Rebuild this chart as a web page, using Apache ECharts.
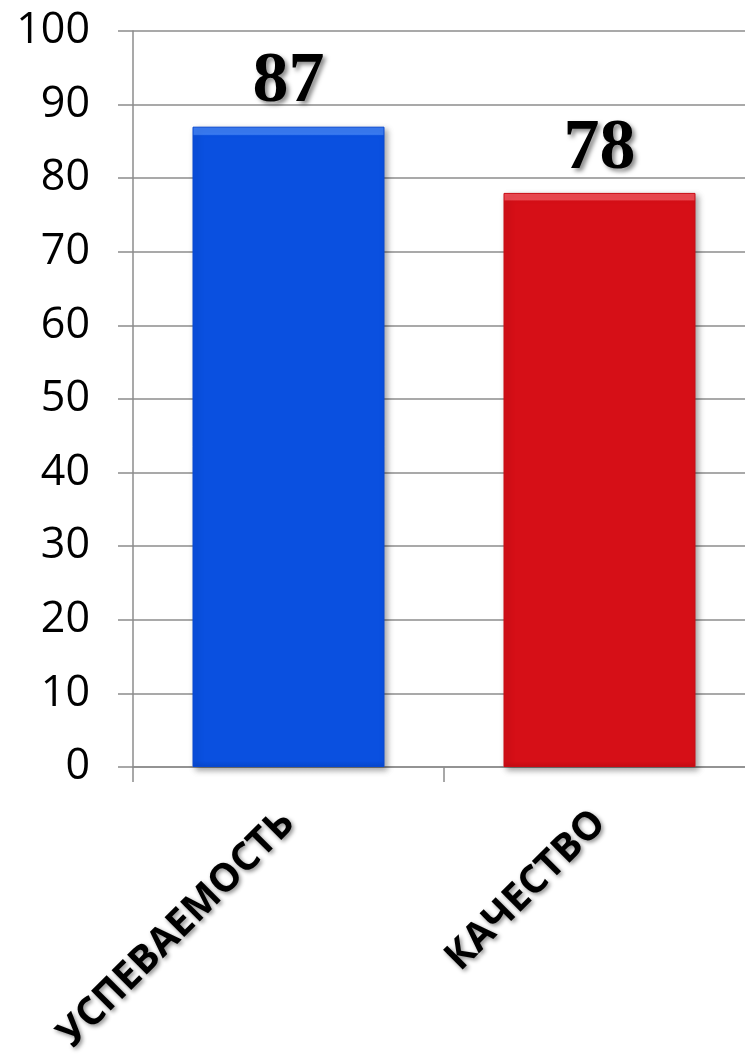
<!DOCTYPE html>
<html><head><meta charset="utf-8">
<script src="https://cdn.jsdelivr.net/npm/echarts@6/dist/echarts.min.js"></script>
<style>html,body{margin:0;padding:0;background:#fff}#c{width:745px;height:1061px}</style>
</head><body><div id="c"></div>
<script>
const categories = ['УСПЕВАЕМОСТЬ', 'КАЧЕСТВО'];
const values = [87, 78];
const barColors = [
  ['#3a7cf5', '#0a50e0', '#0848d0'],
  ['#f04a52', '#d60f17', '#c80c14']
];
const yTicks = [0, 10, 20, 30, 40, 50, 60, 70, 80, 90, 100];

const chart = echarts.init(document.getElementById('c'));
chart.setOption({
  backgroundColor: '#ffffff',
  animation: false,
  grid: { left: 133, top: 31, height: 736, width: 622, outerBoundsMode: 'none', containLabel: false },
  xAxis: {
    type: 'category',
    data: categories,
    axisLine: { lineStyle: { color: '#8c8c8c', width: 1.5 } },
    axisTick: { show: true, length: 15, alignWithLabel: false, lineStyle: { color: '#8c8c8c', width: 1.5 } },
    axisLabel: {
      rotate: 45, margin: 50, interval: 0,
      fontFamily: '"Open Sans", sans-serif', fontWeight: 'bold', fontSize: 39,
      color: '#000',
      textShadowColor: 'rgba(0,0,0,0.45)', textShadowBlur: 4, textShadowOffsetX: 2, textShadowOffsetY: 2
    }
  },
  yAxis: {
    type: 'value', min: yTicks[0], max: yTicks[yTicks.length - 1], interval: 10,
    axisLine: { show: true, lineStyle: { color: '#8c8c8c', width: 1.5 } },
    axisTick: { show: true, length: 15, lineStyle: { color: '#8c8c8c', width: 1.5 } },
    splitLine: { lineStyle: { color: '#8c8c8c', width: 1.5 } },
    axisLabel: {
      margin: 43, fontFamily: '"Open Sans", sans-serif', fontSize: 43, color: '#000'
    }
  },
  series: [{
    type: 'bar',
    barWidth: 192,
    data: values.map((v, i) => ({
      value: v,
      itemStyle: {
        color: new echarts.graphic.LinearGradient(0, 0, 0, 1, [
          { offset: 0, color: barColors[i][0] },
          { offset: 0.012, color: barColors[i][0] },
          { offset: 0.014, color: barColors[i][1] },
          { offset: 0.99, color: barColors[i][1] },
          { offset: 1, color: barColors[i][2] }
        ]),
        borderColor: barColors[i][2], borderWidth: 1,
        shadowColor: 'rgba(0,0,0,0.35)', shadowBlur: 6, shadowOffsetX: 3, shadowOffsetY: 3
      }
    })),
    label: {
      show: true, position: 'top', distance: 16,
      fontFamily: '"Liberation Serif", "Times New Roman", serif', fontWeight: 'bold', fontSize: 72,
      lineHeight: 56,
      color: '#000',
      textShadowColor: 'rgba(0,0,0,0.45)', textShadowBlur: 4, textShadowOffsetX: 3, textShadowOffsetY: 3
    }
  }]
});
</script></body></html>
